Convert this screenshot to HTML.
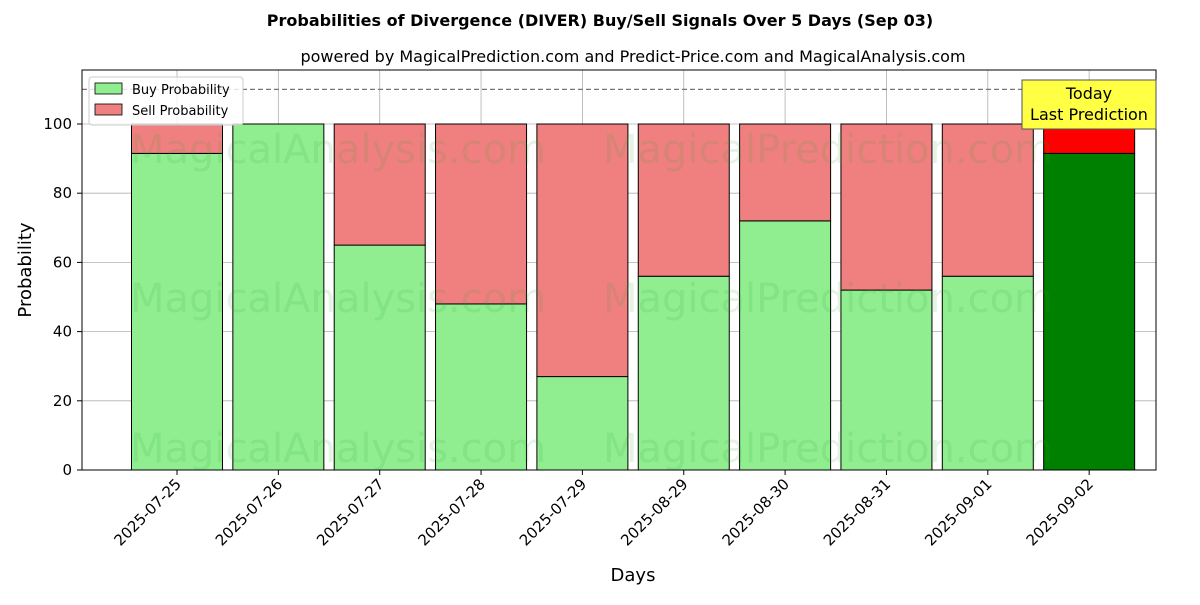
<!DOCTYPE html>
<html><head><meta charset="utf-8"><style>
body{margin:0;background:#fff;font-family:"Liberation Sans","DejaVu Sans",sans-serif;}
</style></head><body>
<svg id="chart" width="1200" height="600" xmlns="http://www.w3.org/2000/svg" font-family="DejaVu Sans, Liberation Sans, sans-serif">
<text x="600" y="26" text-anchor="middle" font-size="16" font-weight="bold">Probabilities of Divergence (DIVER) Buy/Sell Signals Over 5 Days (Sep 03)</text>
<text x="633" y="62" text-anchor="middle" font-size="16">powered by MagicalPrediction.com and Predict-Price.com and MagicalAnalysis.com</text>
<g id="grid"></g>
<g id="bars"></g>
<g id="watermarks" font-size="40" fill="#2ca02c" fill-opacity="0.13">
<text x="130" y="163">MagicalAnalysis.com</text>
<text x="603" y="163">MagicalPrediction.com</text>
<text x="130" y="312">MagicalAnalysis.com</text>
<text x="603" y="312">MagicalPrediction.com</text>
<text x="130" y="462">MagicalAnalysis.com</text>
<text x="603" y="462">MagicalPrediction.com</text>
</g>
<g id="axes"></g>
<rect x="82" y="70" width="1074" height="400" fill="none" stroke="#000" stroke-width="1"/>
<text transform="translate(31,270) rotate(-90)" text-anchor="middle" font-size="18">Probability</text>
<text x="633" y="581" text-anchor="middle" font-size="18">Days</text>
<g>
<rect x="89" y="77" width="154" height="48" fill="#fff" fill-opacity="0.8" stroke="#ccc" rx="3"/>
<rect x="95" y="83" width="27" height="11" fill="#90ee90" stroke="#000" stroke-width="0.8"/>
<text x="132" y="94" font-size="13">Buy Probability</text>
<rect x="95" y="104" width="27" height="11" fill="#f08080" stroke="#000" stroke-width="0.8"/>
<text x="132" y="115" font-size="13">Sell Probability</text>
</g>
<g>
<rect x="1022" y="80" width="134" height="49" fill="#ffff44" stroke="#555" stroke-width="1"/>
<text x="1089" y="99" text-anchor="middle" font-size="16">Today</text>
<text x="1089" y="120" text-anchor="middle" font-size="16">Last Prediction</text>
</g>
</svg>
<script>
const categories=["2025-07-25","2025-07-26","2025-07-27","2025-07-28","2025-07-29","2025-08-29","2025-08-30","2025-08-31","2025-09-01","2025-09-02"];
const buyValues=[91.5,100,65,48,27,56,72,52,56,91.5];
const sellValues=[8.5,0,35,52,73,44,28,48,44,8.5];
const yTicks=[0,20,40,60,80,100];
const dashedLevel=110;
const NS="http://www.w3.org/2000/svg";
const y=v=>470-v*3.46;
const x=i=>177+i*101.35;
const bw=91;
function mk(tag,attrs,parent){const e=document.createElementNS(NS,tag);for(const k in attrs)e.setAttribute(k,attrs[k]);document.getElementById(parent).appendChild(e);return e;}
yTicks.forEach(t=>{
 const l=mk('line',{x1:82,x2:1156,y1:y(t),y2:y(t),stroke:'#b0b0b0','stroke-width':0.8},'grid');
 
 
 const tk=mk('line',{x1:77,x2:82,y1:y(t),y2:y(t),stroke:'#000'},'axes');
 
 
 const tx=mk('text',{x:72,y:y(t)+5,'text-anchor':'end','font-size':15},'axes');
 tx.textContent=t;
 
 
});
categories.forEach((c,i)=>{
 const g=mk('line',{x1:x(i),x2:x(i),y1:70,y2:470,stroke:'#b0b0b0','stroke-width':0.8},'grid');
 
 
 const last=i===categories.length-1;
 const b=mk('rect',{x:x(i)-bw/2,y:y(buyValues[i]),width:bw,height:y(0)-y(buyValues[i]),fill:last?'#008000':'#90ee90',stroke:'#000','stroke-width':1},'bars');
 
 
 const s=mk('rect',{x:x(i)-bw/2,y:y(buyValues[i]+sellValues[i]),width:bw,height:y(buyValues[i])-y(buyValues[i]+sellValues[i]),fill:last?'#ff0000':'#f08080',stroke:'#000','stroke-width':1},'bars');
 
 
 const tk=mk('line',{x1:x(i),x2:x(i),y1:470,y2:475,stroke:'#000'},'axes');
 
 
 const tx=mk('text',{transform:`translate(${x(i)+5},${485}) rotate(-45)`,'text-anchor':'end','font-size':15},'axes');
 tx.textContent=c;
 
 
});
const d=mk('line',{x1:82,x2:1156,y1:y(dashedLevel),y2:y(dashedLevel),stroke:'#777','stroke-dasharray':'5,3','stroke-width':1.2},'grid');


</script>
</body></html>
